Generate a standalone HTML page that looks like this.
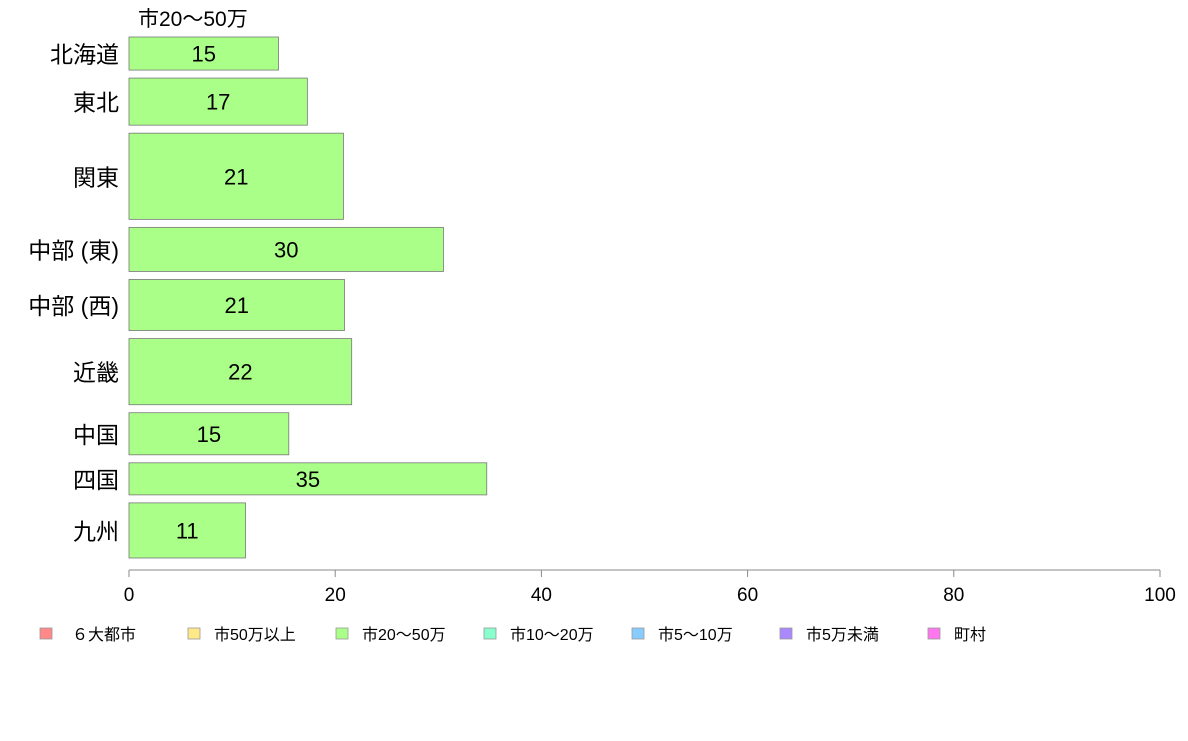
<!DOCTYPE html>
<html><head><meta charset="utf-8">
<style>
html,body{margin:0;padding:0;background:#fff;}
svg text{font-family:"Liberation Sans","Noto Sans CJK JP",sans-serif;}
</style></head>
<body>
<svg id="chart" width="1188" height="736" xmlns="http://www.w3.org/2000/svg"></svg>
<script>
const categories = ["北海道","東北","関東","中部 (東)","中部 (西)","近畿","中国","四国","九州"];
const values = [14.5, 17.3, 20.8, 30.5, 20.9, 21.6, 15.5, 34.7, 11.3];
const valueLabels = ["15","17","21","30","21","22","15","35","11"];
const weights = [33, 47, 86, 44, 51, 66, 42, 32, 55];
const ticks = [0, 20, 40, 60, 80, 100];
const legendLabels = ["６大都市","市50万以上","市20〜50万","市10〜20万","市5〜10万","市5万未満","町村"];
const legendColors = ["#ff8888","#ffe888","#aaff88","#88ffcc","#88ccff","#aa88ff","#ff77ee"];

const svgEl = document.getElementById('chart');
const NS = "http://www.w3.org/2000/svg";
function mk(tag, attrs){const e=document.createElementNS(NS,tag);for(const k in attrs)e.setAttribute(k,attrs[k]);svgEl.appendChild(e);return e;}
const x0=129, x1=1160, yTop=37, yBottom=558, gap=8;
const xs = v => x0 + (v/100)*(x1-x0);
const totalW = weights.reduce((a,b)=>a+b,0);
const avail = (yBottom-yTop) - gap*(categories.length-1);

const title = mk('text',{x:138,y:26,'font-size':21,fill:'#000'});


title.textContent='市20〜50万';

let yy = yTop;
categories.forEach((c,i)=>{
  const h = avail*weights[i]/totalW;
  const r = mk('rect',{x:x0,y:yy,width:xs(values[i])-x0,height:h,fill:'#aaff88',stroke:'#777','stroke-width':0.8});
  
  
  const vl = mk('text',{x:(x0+xs(values[i]))/2,y:yy+h/2+8,'font-size':22,'text-anchor':'middle',fill:'#000'});
  
  
  vl.textContent=valueLabels[i];
  const cl = mk('text',{x:119,y:yy+h/2+9,'font-size':23,'text-anchor':'end',fill:'#000'});
  
  
  cl.textContent=c;
  yy += h + gap;
});

const axis = mk('line',{x1:x0,y1:570,x2:x1,y2:570,stroke:'#888','stroke-width':1});


ticks.forEach(t=>{
  const tl = mk('line',{x1:xs(t),y1:570,x2:xs(t),y2:577,stroke:'#888','stroke-width':1});
  
  
  const tt = mk('text',{x:xs(t),y:601,'font-size':19,'text-anchor':'middle',fill:'#000'});
  
  
  tt.textContent=t;
});

legendLabels.forEach((l,i)=>{
  const lx = 40 + i*148;
  const sq = mk('rect',{x:lx,y:628,width:12,height:11,fill:legendColors[i],stroke:'#999','stroke-width':0.8});
  
  
  const lt = mk('text',{x:lx+(i===0?32:26),y:640,'font-size':16,fill:'#000'});
  
  
  lt.textContent=l;
});
</script>
</body></html>
